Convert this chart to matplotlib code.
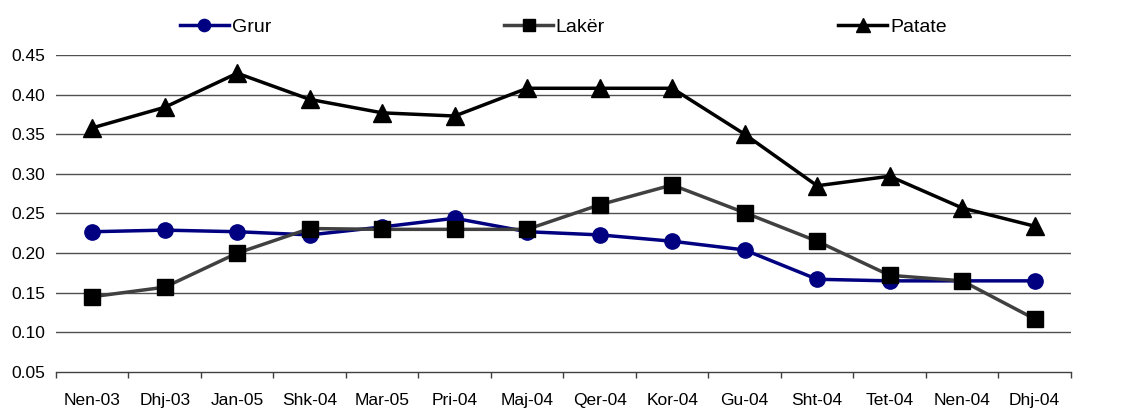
import numpy as np
import matplotlib
matplotlib.use('Agg')
import matplotlib.pyplot as plt

plt.rcParams['font.family'] = ['Liberation Sans', 'DejaVu Sans']

# months shown on the x axis
months = ['Nen-03', 'Dhj-03', 'Jan-05', 'Shk-04', 'Mar-05', 'Pri-04', 'Maj-04',
          'Qer-04', 'Kor-04', 'Gu-04', 'Sht-04', 'Tet-04', 'Nen-04', 'Dhj-04']

# values
grur = [0.227, 0.229, 0.227, 0.223, 0.233, 0.244, 0.227,
        0.223, 0.215, 0.204, 0.167, 0.165, 0.165, 0.165]
laker = [0.145, 0.157, 0.200, 0.231, 0.230, 0.230, 0.230,
         0.261, 0.286, 0.251, 0.215, 0.172, 0.165, 0.117]
patate = [0.358, 0.384, 0.427, 0.394, 0.377, 0.373, 0.408,
          0.408, 0.408, 0.350, 0.285, 0.297, 0.257, 0.234]

yticks = [0.05, 0.10, 0.15, 0.20, 0.25, 0.30, 0.35, 0.40, 0.45]

fig = plt.figure(figsize=(11.38, 4.11), dpi=100)
ax = fig.add_axes([0.0492, 0.0949, 0.8918, 0.7713])

x = np.arange(len(months))

# gridlines
for v in yticks[1:]:
    ax.axhline(v, color='#505050', lw=1.0, zorder=1)

ax.plot(x, grur, color='#000080', lw=2.5, marker='o', ms=11,
        label='Grur', zorder=3, clip_on=False)
ax.plot(x, laker, color='#404040', lw=2.5, marker='s', ms=11,
        mfc='black', mec='black', label='Lakër', zorder=4, clip_on=False)
ax.plot(x, patate, color='black', lw=2.5, marker='^', ms=12.5,
        label='Patate', zorder=5, clip_on=False)

ax.set_xlim(-0.5, len(months) - 0.5)
ax.set_ylim(0.05, 0.45)
ax.set_yticks(yticks)
ax.set_yticklabels(['%.2f' % v for v in yticks])
ax.set_xticks(x)
ax.set_xticklabels(months)
ax.set_xticks(np.arange(-0.5, len(months)), minor=True)

ax.tick_params(axis='x', which='major', length=0, pad=15, labelsize=12.5)
ax.tick_params(axis='x', which='minor', length=4.5, width=1, color='#404040',
               direction='out')
ax.tick_params(axis='y', length=0, pad=8, labelsize=12.5)

for s in ['top', 'right', 'left']:
    ax.spines[s].set_visible(False)
ax.spines['bottom'].set_color('#404040')
ax.spines['bottom'].set_linewidth(1.0)

fig.legend(loc='center', bbox_to_anchor=(0.495, 0.935), ncol=3, frameon=False,
           fontsize=14, columnspacing=12.0, handlelength=2.5, handletextpad=0.15,
           markerscale=0.8)

fig.savefig('out.png', dpi=100)
